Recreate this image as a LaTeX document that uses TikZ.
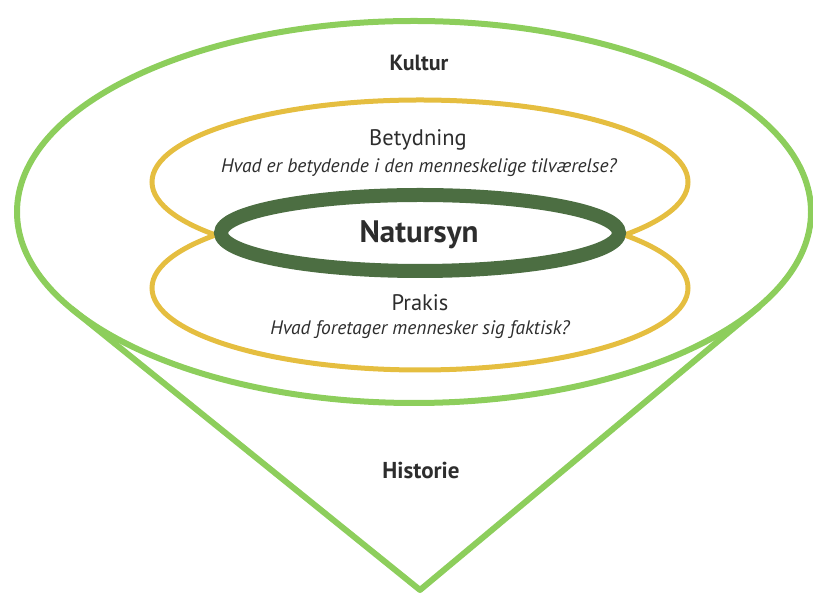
\documentclass[tikz,border=0pt]{standalone}
\usepackage{fontspec}
\setmainfont{PT Sans}
\definecolor{lgreen}{RGB}{141,206,92}
\definecolor{ygold}{RGB}{229,190,64}
\definecolor{dgreen}{RGB}{76,110,66}
\definecolor{txt}{RGB}{45,45,45}
\tikzset{
  outerline/.style={draw=lgreen, line width=6pt, line join=round, line cap=round},
  yring/.style={draw=ygold, line width=5pt},
  dring/.style={draw=dgreen, line width=14pt, fill=white},
  lbl/.style={text=txt, inner sep=0pt, anchor=center},
}
\begin{document}
\begin{tikzpicture}[x=1pt,y=1pt]
\useasboundingbox (0,0) rectangle (813,596);
% cone
\coordinate (apex) at (420,6);
\coordinate (tl) at (72,287);
\coordinate (tr) at (759,289);
\draw[outerline] (tl) -- (apex) -- (tr);
% outer ellipse
\draw[outerline] (414,384) ellipse [x radius=397, y radius=191];
% yellow ellipses
\draw[yring] (420,414) ellipse [x radius=268, y radius=82];
\draw[yring] (420,308) ellipse [x radius=268, y radius=82];
% dark ring
\draw[dring] (420,363) ellipse [x radius=199, y radius=38];
% texts
\node[lbl, font=\bfseries\fontsize{22}{26}\selectfont] (kultur) at (419,533) {Kultur};
\node[lbl, font=\fontsize{22.5}{26}\selectfont] (betyd) at (418,456) {Betydning};
\node[lbl, font=\itshape\fontsize{19.5}{23}\selectfont] (q1) at (419,428) {Hvad er betydende i den menneskelige tilværelse?};
\node[lbl, font=\bfseries\fontsize{31}{36}\selectfont] (natur) at (419,361) {Natursyn};
\node[lbl, font=\fontsize{22.5}{26}\selectfont] (prakis) at (420,293) {Prakis};
\node[lbl, font=\itshape\fontsize{19.5}{23}\selectfont] (q2) at (420,266) {Hvad foretager mennesker sig faktisk?};
\node[lbl, font=\bfseries\fontsize{23}{27}\selectfont] (hist) at (421,126) {Historie};
\end{tikzpicture}
\end{document}
